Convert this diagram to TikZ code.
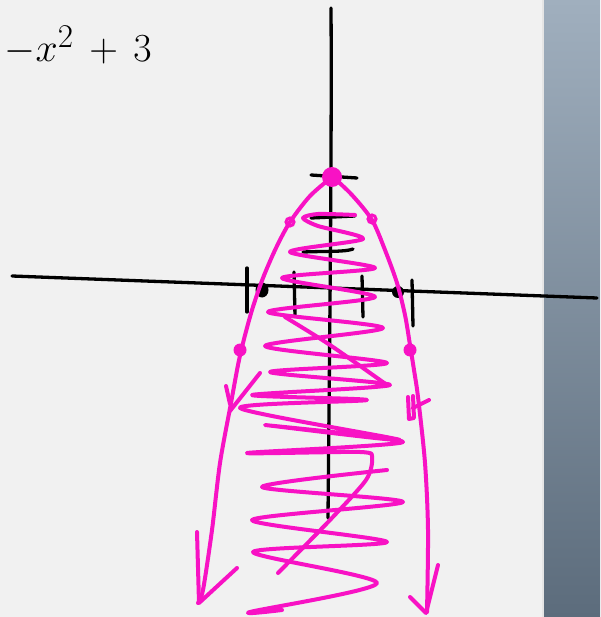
\documentclass[tikz,border=0pt]{standalone}
\usetikzlibrary{calc}
\definecolor{pk}{RGB}{248,18,196}
\definecolor{pagebg}{RGB}{241,241,241}
\definecolor{striptop}{RGB}{160,175,190}
\definecolor{stripbot}{RGB}{92,108,124}
\tikzset{
  ax/.style={line width=3.3pt, black, line cap=round, line join=round},
  pkline/.style={line width=4pt, pk, line cap=round, line join=round},
  scrib/.style={pkline, smooth, tension=0.45},
}
\begin{document}
\begin{tikzpicture}[x=1pt,y=-1pt]
\useasboundingbox (0,0) rectangle (600,617);
% background
\fill[pagebg] (0,0) rectangle (543,617);
\shade[top color=striptop, bottom color=stripbot] (543,0) rectangle (600,617);
\draw[white!80!gray, line width=1.5pt] (543,0) -- (543,617);
% formula
\node[anchor=base east, inner sep=0pt, font=\Huge, scale=1.6, transform shape] (eq) at (152,62) {$\medmuskip=7mu -x^{2}+3$};
% axes
\draw[ax] (12,276) -- (597,298);
\draw[ax] (331,8) .. controls (332,150) and (329,400) .. (328,518);
% x ticks
\draw[ax] (247,268) -- (247,312);
\draw[ax] (294,272) -- (295,316);
\draw[ax] (362,276) -- (363,317);
\draw[ax] (412,280) -- (413,326);
% y ticks
\draw[ax] (311,175) -- (357,178);
\draw[ax] (311,218) -- (355,216);
\draw[ax] (303,252) .. controls (330,251) and (345,252) .. (353,249);
% black dots
\fill (262,290) ellipse (6.5 and 7.5);
\fill (398,292) circle (6);
% parabola
\draw[pkline] plot[smooth] coordinates {(332,177) (310,196) (290,222) (276,248) (263,278) (252,310) (243,343) (238,365) (231,403) (220,463) (212,530) (203,590) (198,603)};
\draw[pkline] plot[smooth] coordinates {(333,177) (352,195) (372,220) (385,250) (397,283) (405,315) (410,345) (414,370) (418,397) (425,463) (428,530) (427,612)};
% arrowheads
\draw[pkline] (197,532) -- (199,603) -- (237,568);
\draw[pkline] (410,597) -- (426,613) -- (438,565);
\draw[pkline] (260,373) -- (230,411);
\draw[pkline] (226,386) -- (230,404);
\draw[pkline] (408,397) -- (409,419) -- (414,418) -- (413,396);
\draw[pkline] (413,408) -- (429,400);
% points
\fill[pk] (332,177) circle (10);
\fill[pk] (240,350) circle (6.5);
\fill[pk] (410,350) circle (6.5);
\draw[pk, line width=3pt] (290,222) circle (4);
\draw[pk, line width=3pt] (372,219) circle (4);
% scribble
\draw[scrib] plot coordinates {(355,215) (318,214) (303,218) (318,226) (363,239) (290,252) (375,268) (282,278) (375,297) (268,312) (383,328) (265,346) (387,363) (270,372) (390,385) (252,395) (367,400) (240,408) (400,440) (265,425) (403,442) (247,453) (360,452) (372,458) (366,480) (330,520) (278,573)};
\draw[scrib] plot coordinates {(285,317) (330,345) (387,385)};
\draw[scrib] plot coordinates {(387,470) (262,487) (403,502) (252,520) (387,542) (253,552) (377,583) (250,612) (282,610)};
\end{tikzpicture}
\end{document}
